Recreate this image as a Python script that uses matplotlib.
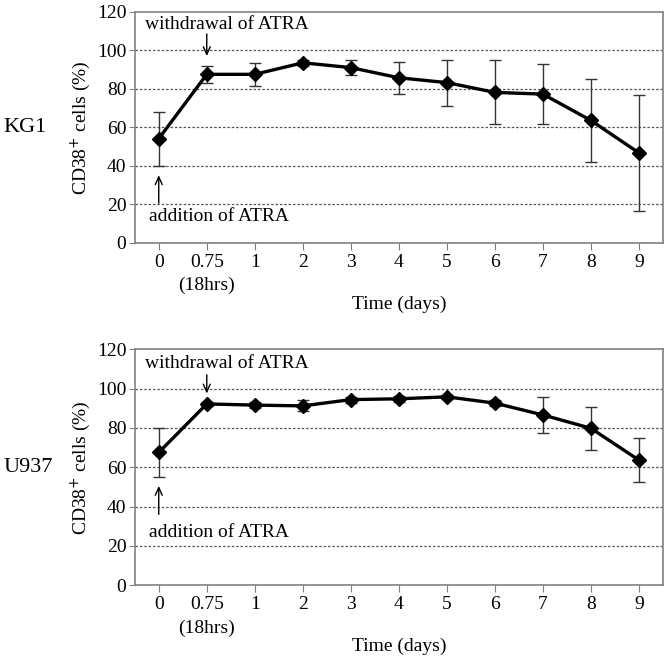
import numpy as np
import matplotlib
matplotlib.use("Agg")
import matplotlib.pyplot as plt

plt.rcParams['font.family'] = ['Liberation Serif', 'DejaVu Serif']

# x categories (days)
days = ['0', '0.75\n(18hrs)', '1', '2', '3', '4', '5', '6', '7', '8', '9']

# KG1 CD38+ cells (%)
kg1_mean = [54, 87.5, 87.5, 93.5, 91, 85.7, 83.2, 78.1, 77.2, 63.5, 46.6]
kg1_err = [14, 4.5, 6, 1.5, 3.7, 8.4, 12, 16.6, 15.6, 21.5, 30]

# U937 CD38+ cells (%)
u937_mean = [67.5, 92.2, 91.6, 91.2, 94.4, 94.8, 95.8, 92.6, 86.6, 79.8, 63.6]
u937_err = [12.3, 1.2, 1.5, 2.8, 1.5, 1.5, 1.0, 1.5, 9.3, 10.8, 11.3]

panels = [('KG1', kg1_mean, kg1_err, 108.5, 97, 113.5, 13.5, 20.5, 35),
          ('U937', u937_mean, u937_err, 107, 97.5, 113, 27, 36, 50.5)]

fig = plt.figure(figsize=(6.67, 6.59), dpi=100)
boxes = [[0.202, 0.632, 0.792, 0.35], [0.202, 0.112, 0.792, 0.358]]
gray = '#808080'
fs = 14

for box, (name, mean, err, w0, w1, wt, at, a0, a1) in zip(boxes, panels):
    ax = fig.add_axes(box)
    x = np.arange(len(days))
    ax.errorbar(x, mean, yerr=err, color='black', lw=2.4, marker='D', ms=7.5,
                ecolor='#333333', elinewidth=1.0, capsize=4, capthick=1.0, zorder=3)
    ax.set_xlim(-0.5, len(days) - 0.5)
    ax.set_ylim(0, 120)
    ax.set_yticks(range(0, 121, 20))
    ax.set_xticks(x)
    ax.set_xticklabels(days, fontsize=fs, linespacing=1.45)
    ax.tick_params(axis='y', labelsize=fs, direction='out', length=4, color=gray, pad=2)
    ax.tick_params(axis='x', direction='out', length=5, color=gray, pad=3)
    for s in ax.spines.values():
        s.set_color(gray)
        s.set_linewidth(1.2)
    for g in range(20, 101, 20):
        ax.axhline(g, color='#555555', lw=0.9, ls=(0, (2, 1.5)), zorder=1)
    ax.set_ylabel('CD38$^{+}$ cells (%)', fontsize=fs, labelpad=3)
    ax.set_xlabel('Time (days)', fontsize=fs, labelpad=1)
    ax.text(-0.28, wt, 'withdrawal of ATRA', fontsize=fs, va='center', ha='left')
    ax.annotate('', xy=(1, w1), xytext=(1, w0),
                arrowprops=dict(arrowstyle='->, head_width=0.25, head_length=0.55',
                                color='black', lw=1.0, shrinkA=0, shrinkB=0))
    ax.text(-0.2, at, 'addition of ATRA', fontsize=fs, va='center', ha='left')
    ax.annotate('', xy=(0, a1), xytext=(0, a0),
                arrowprops=dict(arrowstyle='->, head_width=0.25, head_length=0.55',
                                color='black', lw=1.0, shrinkA=0, shrinkB=0))
    fig.text(0.005, box[1] + box[3] * 0.5, name, fontsize=fs + 2,
             va='center', ha='left')

fig.savefig('out.png', dpi=100)
